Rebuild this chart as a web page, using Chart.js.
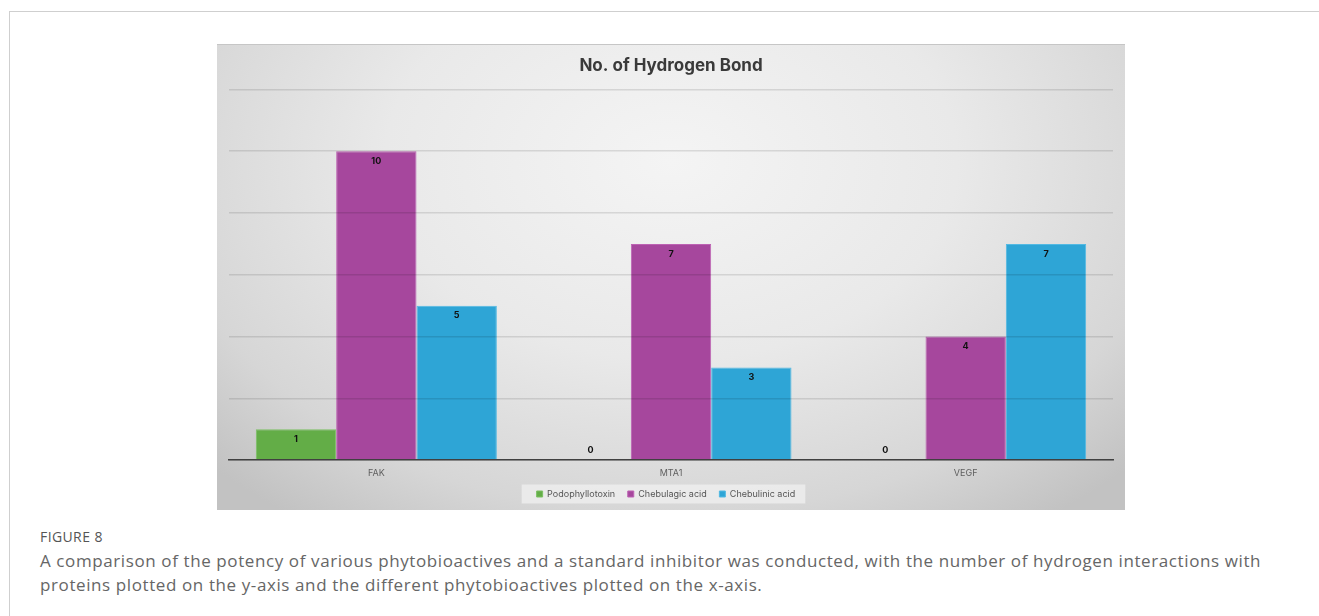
<!DOCTYPE html>
<html>
<head>
<meta charset="utf-8">
<script src="https://cdn.jsdelivr.net/npm/chart.js@4"></script>
<style>
    html, body { margin: 0; padding: 0; background: #fff; }
    body { width: 1319px; height: 616px; position: relative; overflow: hidden; }
    .marco {
        position: absolute; left: 9px; top: 11px; width: 1400px; height: 700px;
        border-left: 1px solid #cfcfcf; border-top: 1px solid #cfcfcf;
    }
    .lienzo {
        position: absolute; left: 217px; top: 44px; width: 908px; height: 466px;
        background: radial-gradient(ellipse 70% 95% at 50% 25%, #f4f4f4 0%, #e9e9e9 45%, #d6d6d6 80%, #c2c2c2 100%);
        border-top: 1px solid #c6c6c6;
        box-sizing: border-box;
    }
    .rotulo {
        position: absolute; left: 40px; top: 527px;
        font-family: "Open Sans", sans-serif; font-size: 14px; letter-spacing: 0.4px; color: #555;
    }
    .leyenda-figura {
        position: absolute; left: 40px; top: 549px; width: 1275px;
        font-family: "Open Sans", sans-serif; font-size: 17px; letter-spacing: 0.6px;
        line-height: 24px; color: #666;
    }
</style>
</head>
<body>
<div class="marco"></div>
<div class="lienzo"><canvas id="graficoPuentes" width="908" height="465"></canvas></div>
<div class="rotulo">FIGURE 8</div>
<div class="leyenda-figura">A comparison of the potency of various phytobioactives and a standard inhibitor was conducted, with the number of hydrogen interactions with<br>proteins plotted on the y-axis and the different phytobioactives plotted on the x-axis.</div>

<script>
// Proteínas (eje x) y cantidad de puentes de hidrógeno por compuesto
const proteinas = ['FAK', 'MTA1', 'VEGF'];
const podofilotoxina = [1, 0, 0];
const acidoChebulagico = [10, 7, 4];
const acidoChebulinico = [5, 3, 7];
const marcasY = [0, 2, 4, 6, 8, 10, 12];

const COLOR_VERDE = '#63ad47';
const COLOR_VIOLETA = '#a6479d';
const COLOR_CELESTE = '#2ea5d6';

// Escribe el valor de cada barra arriba por dentro; los ceros van apoyados en la base
const etiquetasValor = {
    id: 'etiquetasValor',
    afterDatasetsDraw(chart) {
        const ctx = chart.ctx;
        ctx.save();
        ctx.font = 'bold 9px Inter, sans-serif';
        ctx.fillStyle = '#111';
        ctx.textAlign = 'center';
        ctx.textBaseline = 'middle';
        chart.data.datasets.forEach((ds, i) => {
            chart.getDatasetMeta(i).data.forEach((barra, j) => {
                const valor = ds.data[j];
                const y = valor > 0 ? barra.y + 10 : barra.base - 10;
                ctx.fillText(String(valor), barra.x, y);
            });
        });
        ctx.restore();
    }
};

// Recuadro gris claro detrás de la leyenda
const fondoLeyenda = {
    id: 'fondoLeyenda',
    beforeDraw(chart) {
        const cajas = chart.legend && chart.legend.legendHitBoxes;
        if (!cajas || !cajas.length) return;
        const izq = Math.min(...cajas.map(c => c.left)) - 15;
        const der = Math.max(...cajas.map(c => c.left + c.width));
        const arriba = cajas[0].top - 5;
        const ctx = chart.ctx;
        ctx.save();
        ctx.fillStyle = 'rgba(240,240,240,0.75)';
        ctx.fillRect(izq, arriba, der - izq, cajas[0].height + 10);
        ctx.restore();
    }
};

const estiloBarra = { borderWidth: 1, barPercentage: 1.0, categoryPercentage: 0.818 };

new Chart(document.getElementById('graficoPuentes').getContext('2d'), {
    type: 'bar',
    data: {
        labels: proteinas,
        datasets: [
            { label: 'Podophyllotoxin', data: podofilotoxina, backgroundColor: COLOR_VERDE, borderColor: '#7cc063', ...estiloBarra },
            { label: 'Chebulagic acid', data: acidoChebulagico, backgroundColor: COLOR_VIOLETA, borderColor: '#bd62b3', ...estiloBarra },
            { label: 'Chebulinic acid', data: acidoChebulinico, backgroundColor: COLOR_CELESTE, borderColor: '#52b9e3', ...estiloBarra }
        ]
    },
    options: {
        responsive: false,
        animation: false,
        layout: { padding: { left: 12, right: 12, top: 0, bottom: 1.5 } },
        scales: {
            x: {
                grid: { display: false, drawTicks: false },
                border: { display: true, color: '#404040', width: 1.5, z: 2 },
                ticks: { color: '#5f5f5f', padding: 8, font: { family: 'Inter, sans-serif', size: 9 } }
            },
            y: {
                min: 0,
                max: 12,
                afterBuildTicks: (escala) => { escala.ticks = marcasY.map(v => ({ value: v })); },
                ticks: { display: false },
                grid: { color: 'rgba(0,0,0,0.11)', lineWidth: 1.5, drawTicks: false, z: 1 },
                border: { display: false }
            }
        },
        plugins: {
            title: {
                display: true,
                text: 'No. of Hydrogen Bond',
                color: '#3a3a3a',
                font: { family: 'Inter, sans-serif', size: 17, weight: 'bold' },
                padding: { top: 11, bottom: 13 }
            },
            legend: {
                position: 'bottom',
                labels: {
                    boxWidth: 6, boxHeight: 6, padding: 2.5,
                    color: '#555',
                    font: { family: 'Inter, sans-serif', size: 9 },
                    // un poco más de aire entre un compuesto y el siguiente
                    generateLabels: (chart) => Chart.defaults.plugins.legend.labels.generateLabels(chart)
                        .map(item => ({ ...item, text: item.text + '    ' }))
                }
            },
            tooltip: { enabled: false }
        }
    },
    plugins: [fondoLeyenda, etiquetasValor]
});
</script>
</body>
</html>
